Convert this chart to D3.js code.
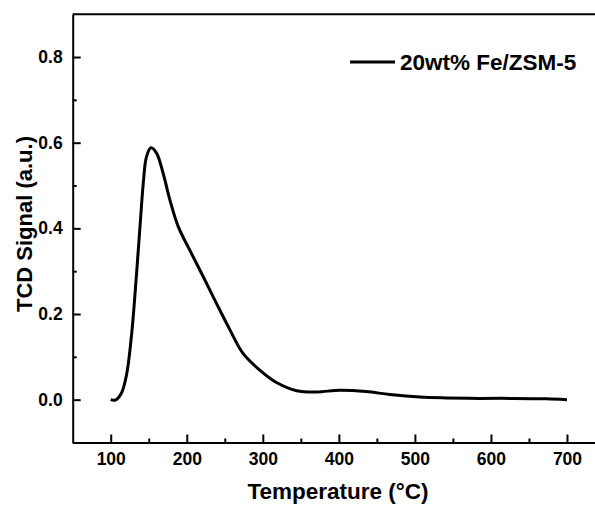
<!DOCTYPE html>
<html>
<head>
<script src="https://d3js.org/d3.v7.min.js"></script>
<style type="text/css">
  body { margin: 0; background: #fff; }
  svg { display: block; }
  text { font-family: "Liberation Sans", Arial, sans-serif; font-weight: bold; fill: #000; }
</style>
</head>
<body>
<div id="container"></div>
<script type="text/javascript">

// TPR profile
var temperature = [100, 106, 114, 121, 127.6, 134, 138.5, 142.8, 147, 153, 160.4, 169, 177.9, 188.8, 204, 221.7,
  239, 256.8, 274, 296, 318, 344.5, 370.7, 401.4, 436, 467, 506.5, 541.6, 585, 629, 673, 700];
var signal = [0.0, -0.001, 0.015, 0.06, 0.155, 0.295, 0.404, 0.505, 0.567, 0.588, 0.575, 0.528, 0.466, 0.404, 0.349, 0.287,
  0.225, 0.163, 0.108, 0.069, 0.040, 0.021, 0.018, 0.022, 0.019, 0.012, 0.006, 0.004, 0.003, 0.003, 0.002, 0.0];

var xTicks = [100, 200, 300, 400, 500, 600, 700];
var xMinor = [150, 250, 350, 450, 550, 650];
var yTicks = [0.0, 0.2, 0.4, 0.6, 0.8];
var yMinor = [-0.1, 0.1, 0.3, 0.5, 0.7];
var seriesName = "20wt% Fe/ZSM-5";

var W = 595, H = 506;
var margin = {top: 14.2, left: 72.7},
    width = 532.3,
    height = 428.3;

var svg = d3.select("#container").append("svg")
    .attr("width", W)
    .attr("height", H);

var g = svg.append("g")
    .attr("transform", "translate(" + margin.left + "," + margin.top + ")");

var x = d3.scaleLinear().domain([50, 750]).range([0, width]);
var y = d3.scaleLinear().domain([-0.1, 0.9]).range([height, 0]);

// minor ticks first so the majors draw over them
g.append("g")
    .attr("transform", "translate(0," + height + ")")
    .call(d3.axisBottom(x).tickValues(xMinor).tickSizeInner(-4).tickSizeOuter(0).tickFormat(""))
    .call(function(s) { s.select(".domain").remove(); s.selectAll("line").attr("stroke-width", 2); });

g.append("g")
    .call(d3.axisLeft(y).tickValues(yMinor).tickSizeInner(-4).tickSizeOuter(0).tickFormat(""))
    .call(function(s) { s.select(".domain").remove(); s.selectAll("line").attr("stroke-width", 2); });

var xAxis = g.append("g")
    .attr("transform", "translate(0," + height + ")")
    .call(d3.axisBottom(x).tickValues(xTicks).tickSizeInner(-8).tickSizeOuter(0).tickPadding(10));

var yAxis = g.append("g")
    .call(d3.axisLeft(y).tickValues(yTicks).tickSizeInner(-8).tickSizeOuter(0).tickPadding(10)
      .tickFormat(d3.format(".1f")));

[xAxis, yAxis].forEach(function(a) {
  a.select(".domain").attr("stroke-width", 2);
  a.selectAll("line").attr("stroke-width", 2);
  a.selectAll("text").style("font-size", "17.5px").style("font-family", null);
});

// top frame line (right side falls off the canvas)
g.append("line")
    .attr("x1", 0).attr("x2", width)
    .attr("y1", 0).attr("y2", 0)
    .attr("stroke", "#000").attr("stroke-width", 2);

var line = d3.line()
    .x(function(d, i) { return x(temperature[i]); })
    .y(function(d) { return y(d); })
    .curve(d3.curveCatmullRom.alpha(0.5));

g.append("path")
    .datum(signal)
    .attr("fill", "none")
    .attr("stroke", "#000")
    .attr("stroke-width", 3)
    .attr("stroke-linejoin", "round")
    .attr("d", line);

// legend
svg.append("line")
    .attr("x1", 350).attr("x2", 395)
    .attr("y1", 62).attr("y2", 62)
    .attr("stroke", "#000").attr("stroke-width", 3);
svg.append("text")
    .attr("x", 400).attr("y", 69.5)
    .style("font-size", "22.5px")
    .text(seriesName);

// axis titles
svg.append("text")
    .attr("x", 338)
    .attr("y", 499)
    .attr("text-anchor", "middle")
    .style("font-size", "22.5px")
    .text("Temperature (\u00B0C)");

svg.append("text")
    .attr("transform", "translate(31.5,224) rotate(-90)")
    .attr("text-anchor", "middle")
    .style("font-size", "22px")
    .text("TCD Signal (a.u.)");

</script>
</body>
</html>
